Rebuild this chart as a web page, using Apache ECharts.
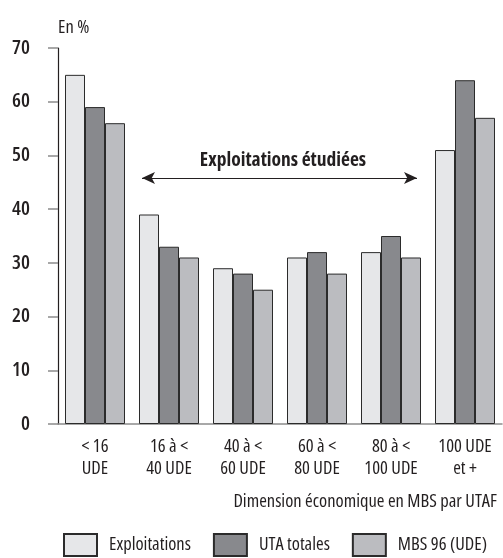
<!DOCTYPE html>
<html>
<head>
<meta charset="utf-8">
<script src="https://cdn.jsdelivr.net/npm/echarts@6/dist/echarts.min.js"></script>
<style>
  html, body { margin: 0; padding: 0; background: #fff; }
  #chart { width: 503px; height: 558px; }
</style>
</head>
<body>
<div id="chart"></div>
<script>
// Size classes (economic dimension per family work unit)
const categories = ['< 16\nUDE', '16 à <\n40 UDE', '40 à <\n60 UDE', '60 à <\n80 UDE', '80 à <\n100 UDE', '100 UDE\net +'];

// Shares in % for each size class
const exploitations = [65, 39, 29, 31, 32, 51];
const utaTotales    = [59, 33, 28, 32, 35, 64];
const mbs96         = [56, 31, 25, 28, 31, 57];

const seriesNames  = ['Exploitations', 'UTA totales', 'MBS 96 (UDE)'];
const seriesColors = ['#e6e7e9', '#88898d', '#bbbcc0'];

const yTicks = { min: 0, max: 70, interval: 10 };

// Condensed face of a variable-width sans
const FONT = '"Open Sans", sans-serif';
const STRETCH = 'condensed';
const INK = '#231f20';

function txt(size, weight, extra) {
  return Object.assign({
    fontFamily: FONT, fontStyle: STRETCH, fontWeight: weight || '500',
    fontSize: size, color: INK
  }, extra || {});
}

const chart = echarts.init(document.getElementById('chart'), null, { renderer: 'canvas' });

function barSeries(name, data, color, extra) {
  return Object.assign({
    name: name,
    type: 'bar',
    data: data,
    barWidth: 20,
    barGap: '0%',
    itemStyle: { color: color, borderColor: '#2b2b2b', borderWidth: 1 },
    emphasis: { disabled: true },
    silent: true
  }, extra || {});
}

chart.setOption({
  animation: false,
  textStyle: txt(18),
  title: [
    { text: 'En %', left: 53, top: 13, textStyle: txt(18.5) },
    { text: 'Dimension économique en MBS par UTAF', right: 1, top: 487, textStyle: txt(18.5) },
    { text: 'Exploitations étudiées', left: 278, top: 145, textAlign: 'center', textStyle: txt(19.5, 'bold') }
  ],
  legend: {
    data: seriesNames,
    icon: 'rect',
    left: 63,
    top: 533,
    width: 440,
    padding: 0,
    itemWidth: 33,
    itemHeight: 22,
    itemGap: 22,
    textStyle: txt(18.5, '500', { padding: [0, 0, 0, 7] })
  },
  grid: { left: 58, right: 1, top: 48, bottom: 134, containLabel: false },
  xAxis: {
    type: 'category',
    data: categories,
    axisLine: { lineStyle: { color: '#8c8c8c', width: 1.5 } },
    axisTick: { inside: true, length: 9, lineStyle: { color: '#8c8c8c', width: 1.5 } },
    axisLabel: txt(18.5, '500', { interval: 0, margin: 12, lineHeight: 22, align: 'center' })
  },
  yAxis: {
    type: 'value',
    min: yTicks.min, max: yTicks.max, interval: yTicks.interval,
    axisLine: { show: true, lineStyle: { color: '#231f20', width: 1.2 } },
    axisTick: { show: true, length: 10, lineStyle: { color: '#8c8c8c', width: 1.5 } },
    splitLine: { show: false },
    axisLabel: txt(20, '600', { margin: 28 })
  },
  series: [
    barSeries(seriesNames[0], exploitations, seriesColors[0], {
      // double-headed arrow spanning the studied size classes
      markLine: {
        silent: true,
        symbol: ['arrow', 'arrow'],
        symbolSize: [9, 13],
        lineStyle: { color: INK, width: 1.2, type: 'solid' },
        label: { show: false },
        data: [[{ x: 142, y: 178 }, { x: 417, y: 178 }]]
      }
    }),
    barSeries(seriesNames[1], utaTotales, seriesColors[1]),
    barSeries(seriesNames[2], mbs96, seriesColors[2])
  ]
});
</script>
</body>
</html>
